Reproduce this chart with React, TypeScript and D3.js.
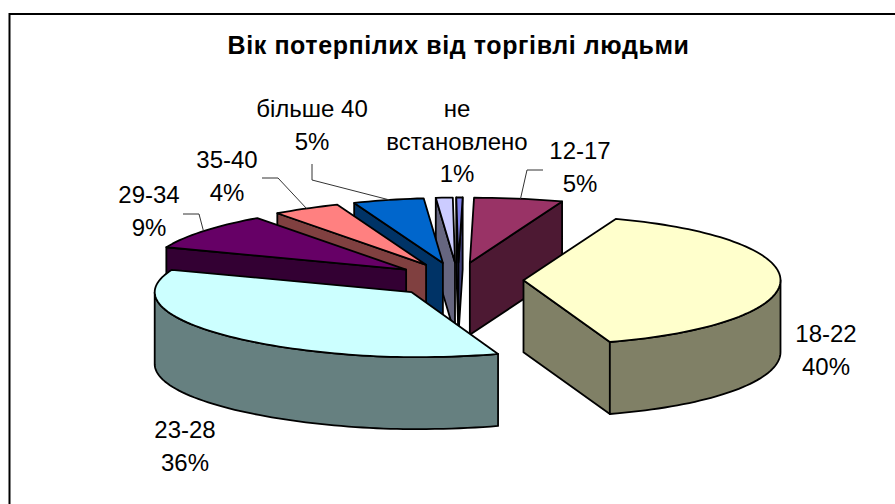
import * as d3 from 'd3';

const categories = ['12-17', '18-22', '23-28', '29-34', '35-40', 'більше 40', 'не встановлено', ''];
const values = [5.2, 39.6, 35.6, 9.0, 4.2, 4.7, 1.3, 0.4];
const topColors = ['#993366', '#FFFFCC', '#CCFFFF', '#660066', '#FF8080', '#0066CC', '#CCCCFF', '#8080E8'];
const sideColors = ['#4D1933', '#808066', '#668080', '#330033', '#804040', '#003366', '#666680', '#40407A'];

// label lines (category may wrap) and baseline of the first line
const labelLines = [['12-17'], ['18-22'], ['23-28'], ['29-34'], ['35-40'], ['більше 40'], ['не', 'встановлено'], []];
const labelPos = [
  [580, 159],
  [826, 342],
  [185, 438],
  [149, 203],
  [227, 168],
  [312, 117],
  [457, 117],
  [0, 0],
];
// leader start and elbow, the far end comes from the slice itself
const leaders: Record<number, number[][]> = {
  0: [[543, 170], [527, 170]],
  3: [[183, 214], [199, 214]],
  4: [[262, 178], [278, 178]],
  5: [[312, 164], [312, 180]],
};

const width = 895;
const height = 504;
const cx = 458.5;
const cy = 280;
const rx = 257;
const ry = 65;
const explodeX = 65;
const explodeY = 17.5;
const depth = 72;
const lineHeight = 32.5;
const firstAngle = 0.012;
const font = '"Liberation Sans", Arial, sans-serif';

const line = d3.line();

// the tilted 3D view is not a clean ellipse, the two halves bulge a bit differently
const bend = (s: number) => (s >= 0 ? Math.pow(s, 0.93) : -Math.pow(-s, 1.1));

export default function App() {
  const total = d3.sum(values);
  const arcs = d3
    .pie<number>()
    .sort(null)
    .startAngle(firstAngle)
    .endAngle(2 * Math.PI + firstAngle)(values);

  const slices = arcs.map((arc, i) => {
    const mid = (arc.startAngle + arc.endAngle) / 2;
    const ax = cx + explodeX * Math.sin(mid);
    const ay = cy - explodeY * Math.cos(mid);
    const rim = (a: number, dz = 0): [number, number] => [ax + rx * bend(Math.sin(a)), ay - ry * Math.cos(a) + dz];
    const sample = (a0: number, a1: number) => {
      const n = Math.max(2, Math.ceil((a1 - a0) / 0.03));
      return d3.range(n + 1).map((k) => a0 + ((a1 - a0) * k) / n);
    };
    const apex: [number, number] = [ax, ay];
    const apexLow: [number, number] = [ax, ay + depth];
    const top = [apex, ...sample(arc.startAngle, arc.endAngle).map((a) => rim(a))];

    const sides: [number, number][][] = [];
    if (Math.sin(arc.startAngle) < -1e-6) {
      sides.push([apex, rim(arc.startAngle), rim(arc.startAngle, depth), apexLow]);
    }
    if (Math.sin(arc.endAngle) > 1e-6) {
      sides.push([apex, rim(arc.endAngle), rim(arc.endAngle, depth), apexLow]);
    }
    const a0 = Math.max(arc.startAngle, Math.PI / 2);
    const a1 = Math.min(arc.endAngle, (3 * Math.PI) / 2);
    if (a1 > a0) {
      const as = sample(a0, a1);
      sides.push([...as.map((a) => rim(a)), ...as.slice().reverse().map((a) => rim(a, depth))]);
    }
    return { i, mid, top, sides, rimMid: rim(mid) };
  });

  const ordered = slices.slice().sort((a, b) => Math.cos(b.mid) - Math.cos(a.mid));

  return (
    <svg
      width={width}
      height={height}
      style={{ position: 'absolute', left: 0, top: 0, background: '#fff' }}
      fontFamily={font}
    >
      <rect x={9.5} y={14} width={width + 20} height={height + 20} fill="#fff" stroke="#000" strokeWidth={2} />
      <text x={458.5} y={54} textAnchor="middle" fontSize={25} fontWeight="bold" letterSpacing={0.6} fill="#000">
        Вік потерпілих від торгівлі людьми
      </text>

      {ordered.map((s) => (
        <g key={s.i} stroke="#000" strokeWidth={1.8} strokeLinejoin="round">
          {s.sides.map((pts, k) => (
            <path key={k} d={line(pts) + 'Z'} fill={sideColors[s.i]} />
          ))}
          <path d={line(s.top) + 'Z'} fill={topColors[s.i]} />
        </g>
      ))}

      {Object.entries(leaders).map(([key, pts]) => (
        <path
          key={key}
          d={line([...(pts as [number, number][]), slices[+key].rimMid]) as string}
          fill="none"
          stroke="#333"
          strokeWidth={1}
        />
      ))}

      {categories.map((c, i) => {
        if (!c) return null;
        const rows = [...labelLines[i], `${Math.round((values[i] / total) * 100)}%`];
        return (
          <text key={c} textAnchor="middle" fontSize={24} fill="#000">
            {rows.map((row, r) => (
              <tspan key={r} x={labelPos[i][0]} y={labelPos[i][1] + r * lineHeight}>
                {row}
              </tspan>
            ))}
          </text>
        );
      })}
    </svg>
  );
}
